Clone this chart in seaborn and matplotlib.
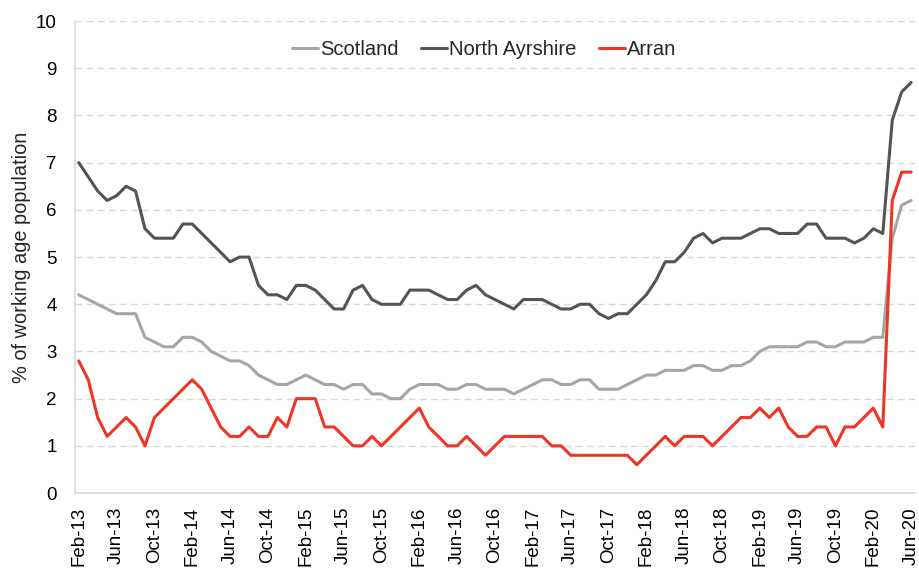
import pandas as pd
import matplotlib.pyplot as plt
import seaborn as sns

# Monthly series, Feb-13 to Jun-20 (% of working age population)
months = pd.date_range('2013-02-01', '2020-06-01', freq='MS')

scotland = [4.2, 4.1, 4.0, 3.9, 3.8, 3.8, 3.8, 3.3, 3.2, 3.1,
            3.1, 3.3, 3.3, 3.2, 3.0, 2.9, 2.8, 2.8, 2.7, 2.5,
            2.4, 2.3, 2.3, 2.4, 2.5, 2.4, 2.3, 2.3, 2.2, 2.3,
            2.3, 2.1, 2.1, 2.0, 2.0, 2.2, 2.3, 2.3, 2.3, 2.2,
            2.2, 2.3, 2.3, 2.2, 2.2, 2.2, 2.1, 2.2, 2.3, 2.4,
            2.4, 2.3, 2.3, 2.4, 2.4, 2.2, 2.2, 2.2, 2.3, 2.4,
            2.5, 2.5, 2.6, 2.6, 2.6, 2.7, 2.7, 2.6, 2.6, 2.7,
            2.7, 2.8, 3.0, 3.1, 3.1, 3.1, 3.1, 3.2, 3.2, 3.1,
            3.1, 3.2, 3.2, 3.2, 3.3, 3.3, 5.4, 6.1, 6.2]

north_ayrshire = [7.0, 6.7, 6.4, 6.2, 6.3, 6.5, 6.4, 5.6, 5.4, 5.4,
                  5.4, 5.7, 5.7, 5.5, 5.3, 5.1, 4.9, 5.0, 5.0, 4.4,
                  4.2, 4.2, 4.1, 4.4, 4.4, 4.3, 4.1, 3.9, 3.9, 4.3,
                  4.4, 4.1, 4.0, 4.0, 4.0, 4.3, 4.3, 4.3, 4.2, 4.1,
                  4.1, 4.3, 4.4, 4.2, 4.1, 4.0, 3.9, 4.1, 4.1, 4.1,
                  4.0, 3.9, 3.9, 4.0, 4.0, 3.8, 3.7, 3.8, 3.8, 4.0,
                  4.2, 4.5, 4.9, 4.9, 5.1, 5.4, 5.5, 5.3, 5.4, 5.4,
                  5.4, 5.5, 5.6, 5.6, 5.5, 5.5, 5.5, 5.7, 5.7, 5.4,
                  5.4, 5.4, 5.3, 5.4, 5.6, 5.5, 7.9, 8.5, 8.7]

arran = [2.8, 2.4, 1.6, 1.2, 1.4, 1.6, 1.4, 1.0, 1.6, 1.8,
         2.0, 2.2, 2.4, 2.2, 1.8, 1.4, 1.2, 1.2, 1.4, 1.2,
         1.2, 1.6, 1.4, 2.0, 2.0, 2.0, 1.4, 1.4, 1.2, 1.0,
         1.0, 1.2, 1.0, 1.2, 1.4, 1.6, 1.8, 1.4, 1.2, 1.0,
         1.0, 1.2, 1.0, 0.8, 1.0, 1.2, 1.2, 1.2, 1.2, 1.2,
         1.0, 1.0, 0.8, 0.8, 0.8, 0.8, 0.8, 0.8, 0.8, 0.6,
         0.8, 1.0, 1.2, 1.0, 1.2, 1.2, 1.2, 1.0, 1.2, 1.4,
         1.6, 1.6, 1.8, 1.6, 1.8, 1.4, 1.2, 1.2, 1.4, 1.4,
         1.0, 1.4, 1.4, 1.6, 1.8, 1.4, 6.2, 6.8, 6.8]

series_names = ['Scotland', 'North Ayrshire', 'Arran']
colors = {'Scotland': '#a6a6a6', 'North Ayrshire': '#545454', 'Arran': '#ee3526'}

# long-form table for seaborn
idx = list(range(len(months)))
df = pd.DataFrame({
    'month': idx * 3,
    'value': scotland + north_ayrshire + arran,
    'area': ['Scotland'] * len(idx) + ['North Ayrshire'] * len(idx) + ['Arran'] * len(idx),
})

sns.set_style('white')
plt.rcParams['font.family'] = ['Liberation Sans', 'DejaVu Sans']

fig = plt.figure(figsize=(9.19, 5.70), dpi=100)
ax = fig.add_axes([0.0816, 0.135, 0.9140, 0.828])

sns.lineplot(data=df, x='month', y='value', hue='area', hue_order=series_names,
             palette=colors, linewidth=2.2, ax=ax)

# axes styling
ax.set_ylim(0, 10)
ax.set_yticks(range(0, 11))
ax.set_xlim(-0.4, len(idx) - 0.6)
tick_pos = idx[::4]
ax.set_xticks(tick_pos)
ax.set_xticklabels([months[i].strftime('%b-%y') for i in tick_pos], rotation=90)
ax.tick_params(axis='both', length=0, labelsize=13.5, colors='black')
ax.tick_params(axis='y', pad=13)
ax.tick_params(axis='x', pad=10)
ax.grid(axis='y', color='#d9d9d9', linestyle=(0, (5, 3)), linewidth=1.0)
ax.set_axisbelow(True)
for s in ['top', 'right']:
    ax.spines[s].set_visible(False)
for s in ['left', 'bottom']:
    ax.spines[s].set_color('#d9d9d9')
    ax.spines[s].set_linewidth(1.2)

ax.set_xlabel('')
ax.set_ylabel('% of working age population', fontsize=14.4, labelpad=4)

ax.legend(loc='center', bbox_to_anchor=(0.487, 0.94), ncol=3, frameon=False,
          fontsize=14.5, handlelength=1.3, handletextpad=0.1, columnspacing=1.1)

plt.savefig('out.png', dpi=100)
